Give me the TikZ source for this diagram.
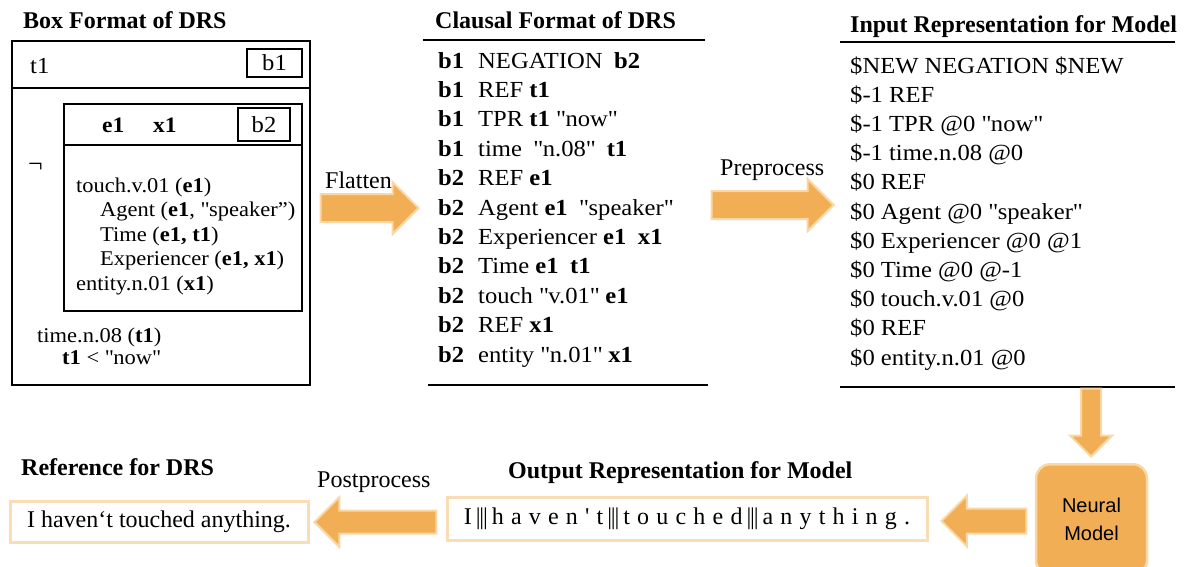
\documentclass[tikz,border=0pt]{standalone}
\usepackage{fontspec}
\setmainfont{Liberation Serif}
\setsansfont{Liberation Sans}
\newfontfamily\bodyfont{Liberation Serif}[FakeStretch=1.07]
\usetikzlibrary{shapes.arrows}

\definecolor{arrowfill}{HTML}{F2AE55}
\definecolor{arrowedge}{HTML}{FAD8A6}
\definecolor{boxedge}{HTML}{F8DDB5}

\newcommand{\tokbar}{\,|\kern-1.2pt|\kern-1.2pt|\,}
\newcommand{\qq}[1]{\textquotedbl#1\textquotedbl}

\tikzset{
  heading/.style={font=\fontsize{24}{28}\selectfont\bfseries, anchor=base west, inner sep=0pt},
  drstext/.style={font=\bodyfont\fontsize{21}{24}\selectfont, anchor=base west, inner sep=0pt},
  clause/.style={font=\bodyfont\fontsize{23}{27}\selectfont, anchor=base west, inner sep=0pt},
  plain/.style={font=\fontsize{24}{28}\selectfont, anchor=base west, inner sep=0pt},
  labelbox/.style={draw, line width=1.5pt, font=\bodyfont\fontsize{23}{27}\selectfont, inner sep=0pt},
  outbox/.style={draw=boxedge, line width=3pt, font=\fontsize{24}{28}\selectfont, inner sep=0pt},
  bigarrow/.style={single arrow, fill=arrowfill, draw=arrowedge, line width=2pt,
    anchor=tip, single arrow head indent=0pt},
}

\begin{document}
\begin{tikzpicture}[x=1pt,y=-1pt]
  \useasboundingbox (0,0) rectangle (1185,566);
  \clip (0,0) rectangle (1185,566);

  % box format
  \node[heading] (boxtitle) at (23,28) {Box Format of DRS};
  \draw[line width=1.5pt] (12,41) rectangle (310,385);
  \draw[line width=1.5pt] (12,88) -- (310,88);
  \node[drstext, font=\bodyfont\fontsize{23}{24}\selectfont] (t1) at (30,73) {t1};
  \node[labelbox, minimum width=55pt, minimum height=28pt] (b1) at (274.5,63) {b1};
  \node[drstext, font=\fontsize{26}{28}\selectfont] (neg) at (28,172) {¬};

  \draw[line width=1.5pt] (64,104) rectangle (302,311);
  \draw[line width=1.5pt] (64,145) -- (302,145);
  \node[drstext, font=\bodyfont\fontsize{22}{24}\selectfont\bfseries] (e1) at (102,132) {e1};
  \node[drstext, font=\bodyfont\fontsize{22}{24}\selectfont\bfseries] (x1) at (153,132) {x1};
  \node[labelbox, minimum width=52pt, minimum height=33pt] (b2) at (264,124.5) {b2};

  \node[drstext] (touch) at (76,192) {touch.v.01 (\textbf{e1})};
  \node[drstext] (agent) at (100,216) {Agent (\textbf{e1}, \textquotedbl speaker”)};
  \node[drstext] (time) at (100,241) {Time (\textbf{e1, t1})};
  \node[drstext] (exper) at (100,265) {Experiencer (\textbf{e1, x1})};
  \node[drstext] (entity) at (76,290) {entity.n.01 (\textbf{x1})};
  \node[drstext] (timen) at (37,342) {time.n.08 (\textbf{t1})};
  \node[drstext] (now) at (62,364) {\textbf{t1} < \qq{now}};

  % clausal format
  \node[heading] (cltitle) at (435,28) {Clausal Format of DRS};
  \draw[line width=1.5pt] (423,40) -- (705,40);
  \draw[line width=1.5pt] (428,385) -- (708,385);
  \foreach \blk/\rest [count=\i from 0] in {
      b1/NEGATION\enspace\textbf{b2},
      b1/REF \textbf{t1},
      b1/TPR \textbf{t1} \qq{now},
      b1/time\enspace\qq{n.08}\enspace\textbf{t1},
      b2/REF \textbf{e1},
      b2/Agent \textbf{e1}\enspace\qq{speaker},
      b2/Experiencer \textbf{e1}\enspace\textbf{x1},
      b2/Time \textbf{e1}\enspace\textbf{t1},
      b2/touch \qq{v.01} \textbf{e1},
      b2/REF \textbf{x1},
      b2/entity \qq{n.01} \textbf{x1}} {
    \node[clause, font=\bodyfont\fontsize{23}{27}\selectfont\bfseries] (blk\i) at (438,68+29.4*\i) {\blk};
    \node[clause] (cl\i) at (478,68+29.4*\i) {\rest};
  }

  % input for the model
  \node[heading] (intitle) at (850,32) {Input Representation for Model};
  \draw[line width=1.5pt] (840,42) -- (1175,42);
  \draw[line width=1.5pt] (840,387) -- (1175,387);
  \foreach \row [count=\i from 0] in {
      \$NEW NEGATION \$NEW,
      \$-1 REF,
      \$-1 TPR @0 \qq{now},
      \$-1 time.n.08 @0,
      \$0 REF,
      \$0 Agent @0 \qq{speaker},
      \$0 Experiencer @0 @1,
      \$0 Time @0 @-1,
      \$0 touch.v.01 @0,
      \$0 REF,
      \$0 entity.n.01 @0} {
    \node[clause] (in\i) at (850,73+29.2*\i) {\row};
  }

  % arrows between the formats
  \node[bigarrow, minimum height=98pt, inner xsep=0pt, inner ysep=13pt, single arrow head extend=12pt] (flatten) at (420,208) {};
  \node[plain] (flattenlbl) at (325,188) {Flatten};
  \node[bigarrow, minimum height=122pt, inner xsep=0pt, inner ysep=13pt, single arrow head extend=12pt] (prep) at (835,205) {};
  \node[plain] (preplbl) at (720,175) {Preprocess};
  \node[bigarrow, shape border rotate=270, minimum height=68pt, inner xsep=9pt, inner ysep=0pt, single arrow head extend=11pt] (down) at (1091,458) {};

  % neural model
  \node[fill=arrowfill, draw=arrowedge, line width=2.5pt, rounded corners=14pt,
    minimum width=111pt, minimum height=110pt, anchor=north, align=center,
    font=\sffamily\fontsize{20}{28}\selectfont] (neural) at (1091.5,463) {Neural\\Model};

  % output side
  \node[heading] (outtitle) at (508,478) {Output Representation for Model};
  \node[outbox, minimum width=480pt, minimum height=43pt] (outrep) at (687,518.5)
    {\spaceskip=7.2pt I\tokbar h a v e n \textquotesingle\ t\tokbar t o u c h e d\tokbar a n y t h i n g .};
  \node[bigarrow, shape border rotate=180, minimum height=85pt, inner xsep=0pt, inner ysep=11.5pt, single arrow head extend=13pt] (back) at (940,521) {};

  \node[heading] (reftitle) at (21,475) {Reference for DRS};
  \node[outbox, minimum width=298pt, minimum height=41pt] (refdrs) at (159,521.5) {I haven‘t touched anything.};
  \node[bigarrow, shape border rotate=180, minimum height=122pt, inner xsep=0pt, inner ysep=10.5pt, single arrow head extend=13.5pt] (post) at (313,522) {};
  \node[plain] (postlbl) at (317,487) {Postprocess};
\end{tikzpicture}
\end{document}
